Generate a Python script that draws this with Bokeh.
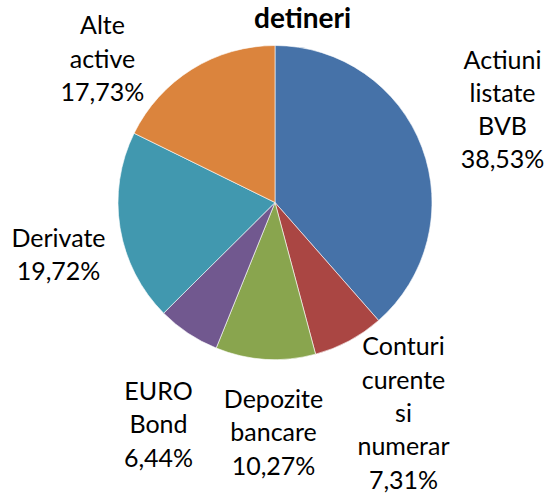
import math
from bokeh.plotting import figure
from bokeh.models import Range1d, ColumnDataSource
from bokeh.core.properties import value
from bokeh.embed import file_html
from bokeh.resources import INLINE

# ---- data ----
categories = ["Actiuni listate BVB", "Conturi curente si numerar", "Depozite bancare",
              "EURO Bond", "Derivate", "Alte active"]
shares = [38.53, 7.31, 10.27, 6.44, 19.72, 17.73]
title_text = "detineri"

# ---- style / layout ----
colors = ["#4672A8", "#AA4643", "#89A54E", "#71588F", "#4198AF", "#DB843D"]
W, H = 546, 495
CX, CY, R = 274.5, 202.0, 157.0        # pie centre / radius (screen px, top-left origin)
LABEL_R = 235.0                          # base label distance from centre
LABEL_NUDGE = [(7.6, -11.1), (17.7, 2.3), (12.9, -5.6), (13.5, 25.2), (15.4, 12.9), (-48.3, 54.5)]
LINE_H = 33.3
FONT = "Lato"
FSIZE = "25px"

p = figure(width=W, height=H, output_backend="svg", toolbar_location=None,
           x_range=Range1d(0, W), y_range=Range1d(0, H), min_border=0)
p.axis.visible = False
p.grid.visible = False
p.outline_line_color = None
p.background_fill_color = "white"
p.border_fill_color = "white"

total = sum(shares)
starts, ends, mids = [], [], []
cum = 0.0
for s in shares:
    a0 = cum / total
    cum += s
    a1 = cum / total
    starts.append(math.pi / 2 - 2 * math.pi * a0)
    ends.append(math.pi / 2 - 2 * math.pi * a1)
    mids.append(2 * math.pi * (a0 + a1) / 2)   # clockwise from top

src = ColumnDataSource(dict(x=[CX] * len(shares), y=[H - CY] * len(shares),
                            start=starts, end=ends, color=colors))
p.wedge(x="x", y="y", radius=R, start_angle="start", end_angle="end",
        direction="clock", fill_color="color", line_color="white", line_width=0.6,
        source=src)

# labels
lx, ly, lt = [], [], []
for cat, s, th, (ndx, ndy) in zip(categories, shares, mids, LABEL_NUDGE):
    lines = cat.split(" ") + [f"{s:.2f}".replace(".", ",") + "%"]
    bx = CX + LABEL_R * math.sin(th) + ndx
    by = CY - LABEL_R * math.cos(th) + ndy
    n = len(lines)
    for k, line in enumerate(lines):
        lx.append(bx)
        ly.append(H - (by + (k - (n - 1) / 2) * LINE_H))
        lt.append(line)

p.text(x=lx, y=ly, text=lt, text_align="center", text_baseline="middle",
       text_font=value(FONT), text_font_size=FSIZE, text_color="black")

p.text(x=[302], y=[H - 16], text=[title_text], text_align="center",
       text_baseline="alphabetic", text_font=value(FONT), text_font_size="28px",
       text_font_style="bold", text_color="black")

open("out.html", "w").write(file_html(p, INLINE))
